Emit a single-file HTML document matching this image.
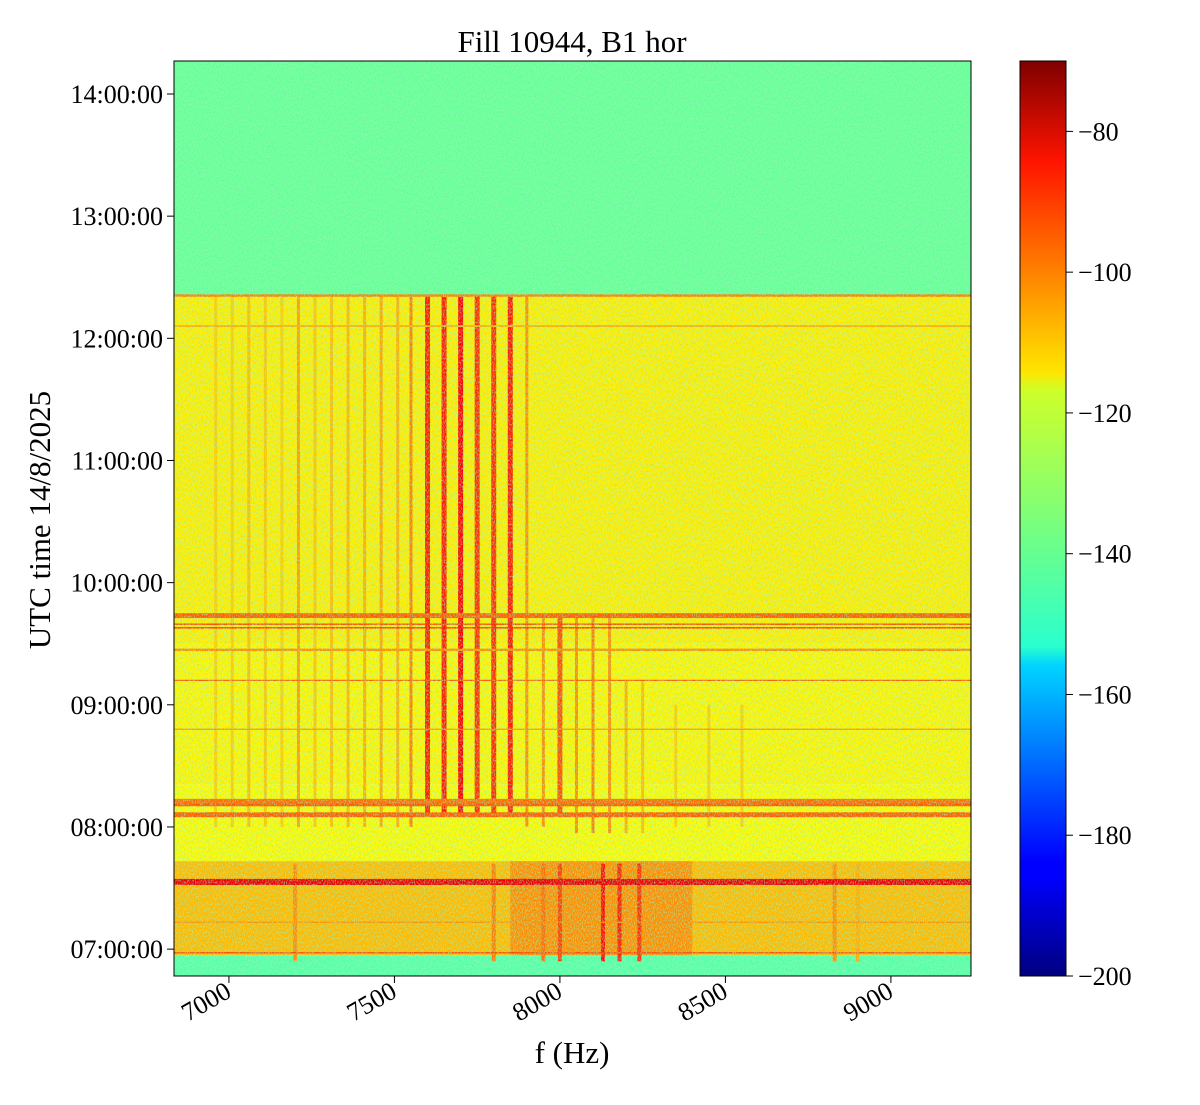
<!DOCTYPE html>
<html><head><meta charset="utf-8"><style>
body{margin:0;background:#fff;}
svg text{font-family:"Liberation Serif",serif;fill:#000;}
</style></head><body>
<svg id="chart" width="1200" height="1100" xmlns="http://www.w3.org/2000/svg">
<defs>
<linearGradient id="jet" x1="0" y1="1" x2="0" y2="0">
<stop offset="0" stop-color="#00007f"/><stop offset="0.11" stop-color="#0000ff"/>
<stop offset="0.125" stop-color="#0000ff"/><stop offset="0.34" stop-color="#00d4ff"/>
<stop offset="0.36" stop-color="#29ffce"/><stop offset="0.5" stop-color="#7dff7a"/>
<stop offset="0.64" stop-color="#ceff29"/><stop offset="0.66" stop-color="#ffe500"/>
<stop offset="0.89" stop-color="#ff1400"/><stop offset="1" stop-color="#7f0000"/>
</linearGradient>
<filter id="noise" x="0" y="0" width="100%" height="100%">
<feTurbulence type="fractalNoise" baseFrequency="0.9 0.5" numOctaves="2" seed="3"/>
<feColorMatrix type="matrix" values="0 0 0 0 0.35  0 0 0 0 0.95  0 0 0 0 0.55  0 0 0 3.5 -1.5"/>
</filter>
<filter id="noise2" x="0" y="0" width="100%" height="100%">
<feTurbulence type="fractalNoise" baseFrequency="0.8 0.45" numOctaves="2" seed="9"/>
<feColorMatrix type="matrix" values="0 0 0 0 1  0 0 0 0 0.45  0 0 0 0 0  0 0 0 3.5 -1.6"/>
</filter>
<clipPath id="plotclip"><rect x="174" y="61" width="797" height="915"/></clipPath>
</defs>
<text x="572" y="52" font-size="31" text-anchor="middle">Fill 10944, B1 hor</text>
<g id="plot" clip-path="url(#plotclip)"></g>
<rect x="174" y="61" width="797" height="915" fill="none" stroke="#000" stroke-width="1"/>
<g id="xaxis"></g>
<g id="yaxis"></g>
<text x="572" y="1063" font-size="31" text-anchor="middle">f (Hz)</text>
<text transform="translate(50,520) rotate(-90)" font-size="31" text-anchor="middle">UTC time 14/8/2025</text>
<rect x="1020" y="61" width="46" height="915" fill="url(#jet)" stroke="#000" stroke-width="1"/>
<g id="cbaxis"></g>
</svg>
<script>
// data
const xTicks=[7000,7500,8000,8500,9000];
const yTicks=[7,8,9,10,11,12,13,14];
const cbTicks=[-80,-100,-120,-140,-160,-180,-200];
// background regions: [startHour,endHour,levelDb]
const regionStart=[12.35,9.5,8.35,7.72,6.95,6.78];
const regionEnd=[14.27,12.35,9.5,8.35,7.72,6.95];
const regionLevel=[-138,-117,-118,-119,-110,-140];
// harmonic lines: freq, level, start hour, end hour
const lineFreq=[6960,7010,7060,7110,7160,7210,7260,7310,7360,7410,7460,7510,7550,7600,7650,7700,7750,7800,7850,7900,7950,8000,8050,8100,8150,8200,8250,8350,8450,8550];
const lineLevel=[-112,-112,-110,-111,-112,-106,-111,-110,-109,-108,-107,-108,-102,-90,-90,-86,-92,-92,-89,-104,-104,-96,-104,-102,-104,-108,-110,-112,-112,-112];
const lineStart=[8.0,8.0,8.0,8.0,8.0,8.0,8.0,8.0,8.0,8.0,8.0,8.0,8.0,8.1,8.1,8.1,8.1,8.1,8.1,8.0,8.0,8.1,7.95,7.95,7.95,7.95,7.95,8.0,8.0,8.0];
const lineEnd=[12.35,12.35,12.35,12.35,12.35,12.35,12.35,12.35,12.35,12.35,12.35,12.35,12.35,12.35,12.35,12.35,12.35,12.35,12.35,12.35,9.75,9.75,9.75,9.75,9.75,9.2,9.2,9.0,9.0,9.0];
// horizontal events: hour, level, thickness(hours)
const hLineHour=[12.35,12.1,9.73,9.66,9.63,9.45,9.2,8.8,8.2,8.18,8.1,7.55,7.22,6.97];
const hLineLevel=[-102,-108,-98,-92,-88,-104,-98,-104,-100,-97,-98,-84,-104,-94];
const hLineThick=[0.02,0.015,0.04,0.01,0.01,0.02,0.01,0.01,0.06,0.02,0.04,0.05,0.01,0.01];
// bottom broadband burst lines: freq, level
const burstFreq=[7200,7800,7950,8000,8130,8180,8240,8830,8900];
const burstLevel=[-104,-102,-100,-94,-88,-90,-92,-104,-108];

const x=f=>174+(f-6834)*797/(9242-6834);
const y=h=>976-(h-6.78)*915/(14.27-6.78);
const cy=v=>976-(v+200)*915/130;
function jet(v){let t=(v+200)/130;t=Math.max(0,Math.min(1,t));
 const r=Math.max(0,Math.min(1,1.5-Math.abs(4*t-3))),g=Math.max(0,Math.min(1,1.5-Math.abs(4*t-2))),b=Math.max(0,Math.min(1,1.5-Math.abs(4*t-1)));
 return `rgb(${Math.round(r*255)},${Math.round(g*255)},${Math.round(b*255)})`;}
const NS='http://www.w3.org/2000/svg';
function mk(tag,attrs,parent){const e=document.createElementNS(NS,tag);for(const k in attrs)e.setAttribute(k,attrs[k]);parent.appendChild(e);return e;}
const plot=document.getElementById('plot');
for(let i=0;i<regionStart.length;i++){
 const r=mk('rect',{x:174,y:y(regionEnd[i]),width:797,height:y(regionStart[i])-y(regionEnd[i]),fill:jet(regionLevel[i])},plot);
 
 
}
const glow=mk('rect',{x:x(7850),y:y(7.72),width:x(8400)-x(7850),height:y(6.95)-y(7.72),fill:jet(-100),opacity:0.6},plot);


const nz2=mk('rect',{x:174,y:y(12.35),width:797,height:y(6.95)-y(12.35),filter:'url(#noise2)',opacity:0.35},plot);


for(let i=0;i<lineFreq.length;i++){
 const w=lineLevel[i]<-100?3:5;
 const l=mk('rect',{x:x(lineFreq[i])-w/2,y:y(lineEnd[i]),width:w,height:y(lineStart[i])-y(lineEnd[i]),fill:jet(lineLevel[i])},plot);
 
 
}
for(let i=0;i<burstFreq.length;i++){
 const b=mk('rect',{x:x(burstFreq[i])-2,y:y(7.7),width:4,height:y(6.9)-y(7.7),fill:jet(burstLevel[i])},plot);
 
 
}
for(let i=0;i<hLineHour.length;i++){
 const h=Math.max(1,y(hLineHour[i]-hLineThick[i]/2)-y(hLineHour[i]+hLineThick[i]/2));
 const e=mk('rect',{x:174,y:y(hLineHour[i])-h/2,width:797,height:h,fill:jet(hLineLevel[i])},plot);
 
 
}
const nz=mk('rect',{x:174,y:61,width:797,height:915,filter:'url(#noise)',opacity:0.55},plot);


const xa=document.getElementById('xaxis');
xTicks.forEach(f=>{const X=x(f);
 const t=mk('line',{x1:X,y1:976,x2:X,y2:983,stroke:'#000'},xa);
 
 
 const tx=mk('text',{transform:`translate(${X+4},${996}) rotate(-30)`,'font-size':26,'text-anchor':'end'},xa);tx.textContent=f;
 
 
});
const ya=document.getElementById('yaxis');
yTicks.forEach(h=>{const Y=y(h);
 const t=mk('line',{x1:167,y1:Y,x2:174,y2:Y,stroke:'#000'},ya);
 
 
 const tx=mk('text',{x:163,y:Y+9,'font-size':26,'text-anchor':'end'},ya);tx.textContent=String(h).padStart(2,'0')+':00:00';
 
 
});
const ca=document.getElementById('cbaxis');
cbTicks.forEach(v=>{const Y=cy(v);
 const t=mk('line',{x1:1066,y1:Y,x2:1073,y2:Y,stroke:'#000'},ca);
 
 
 const tx=mk('text',{x:1078,y:Y+9,'font-size':26},ca);tx.textContent='\u2212'+Math.abs(v);
 
 
});
</script>
</body></html>
